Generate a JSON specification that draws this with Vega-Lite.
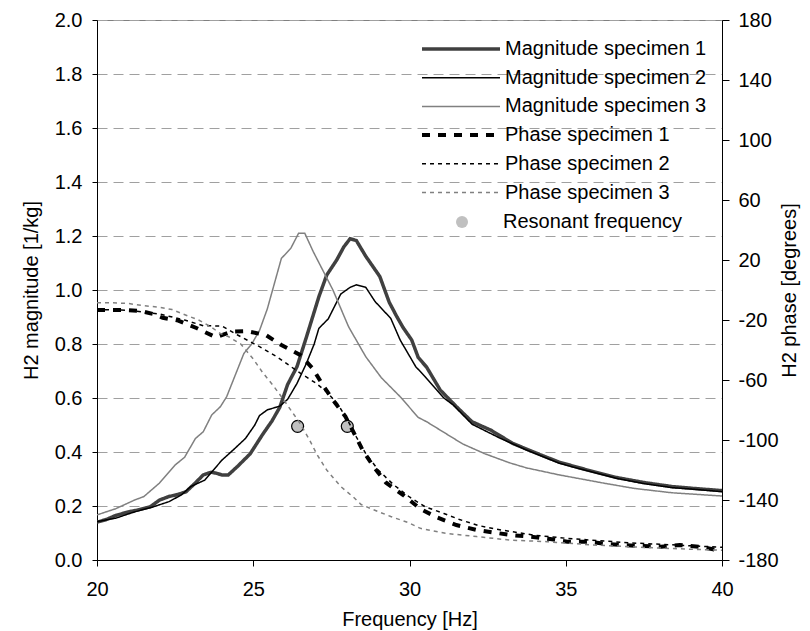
{
  "$schema": "https://vega.github.io/schema/vega-lite/v6.json",
  "width": 625,
  "height": 540,
  "autosize": {"type": "none"},
  "padding": {"left": 97, "top": 20, "right": 88, "bottom": 71},
  "config": {
    "font": "Liberation Sans",
    "view": {"stroke": "#808080", "strokeWidth": 1},
    "axis": {
      "labelFont": "Liberation Sans", "labelFontSize": 20, "labelColor": "#000000",
      "titleFont": "Liberation Sans", "titleFontSize": 20, "titleFontWeight": "normal", "titleColor": "#000000",
      "domainColor": "#000000", "tickColor": "#000000", "labelFlush": false, "labelOverlap": false
    },
    "legend": {"labelFont": "Liberation Sans", "labelFontSize": 20, "labelColor": "#000000", "labelLimit": 400, "padding": 0}
  },
  "datasets": {
    "mag": [
      {"s": "Magnitude specimen 1", "f": 20.0, "m": 0.140},
      {"s": "Magnitude specimen 1", "f": 20.3, "m": 0.150},
      {"s": "Magnitude specimen 1", "f": 20.6, "m": 0.165},
      {"s": "Magnitude specimen 1", "f": 21.0, "m": 0.178},
      {"s": "Magnitude specimen 1", "f": 21.3, "m": 0.185},
      {"s": "Magnitude specimen 1", "f": 21.7, "m": 0.197},
      {"s": "Magnitude specimen 1", "f": 22.0, "m": 0.222},
      {"s": "Magnitude specimen 1", "f": 22.3, "m": 0.235},
      {"s": "Magnitude specimen 1", "f": 22.6, "m": 0.243},
      {"s": "Magnitude specimen 1", "f": 22.85, "m": 0.253},
      {"s": "Magnitude specimen 1", "f": 23.1, "m": 0.280},
      {"s": "Magnitude specimen 1", "f": 23.4, "m": 0.315},
      {"s": "Magnitude specimen 1", "f": 23.65, "m": 0.325},
      {"s": "Magnitude specimen 1", "f": 23.8, "m": 0.322},
      {"s": "Magnitude specimen 1", "f": 24.0, "m": 0.315},
      {"s": "Magnitude specimen 1", "f": 24.2, "m": 0.315},
      {"s": "Magnitude specimen 1", "f": 24.5, "m": 0.347},
      {"s": "Magnitude specimen 1", "f": 24.9, "m": 0.393},
      {"s": "Magnitude specimen 1", "f": 25.3, "m": 0.465},
      {"s": "Magnitude specimen 1", "f": 25.6, "m": 0.515},
      {"s": "Magnitude specimen 1", "f": 25.85, "m": 0.566},
      {"s": "Magnitude specimen 1", "f": 26.1, "m": 0.650},
      {"s": "Magnitude specimen 1", "f": 26.4, "m": 0.716},
      {"s": "Magnitude specimen 1", "f": 26.7, "m": 0.825},
      {"s": "Magnitude specimen 1", "f": 26.9, "m": 0.900},
      {"s": "Magnitude specimen 1", "f": 27.1, "m": 0.975},
      {"s": "Magnitude specimen 1", "f": 27.35, "m": 1.055},
      {"s": "Magnitude specimen 1", "f": 27.67, "m": 1.111},
      {"s": "Magnitude specimen 1", "f": 27.9, "m": 1.160},
      {"s": "Magnitude specimen 1", "f": 28.1, "m": 1.190},
      {"s": "Magnitude specimen 1", "f": 28.3, "m": 1.183},
      {"s": "Magnitude specimen 1", "f": 28.6, "m": 1.125},
      {"s": "Magnitude specimen 1", "f": 29.05, "m": 1.050},
      {"s": "Magnitude specimen 1", "f": 29.35, "m": 0.955},
      {"s": "Magnitude specimen 1", "f": 29.6, "m": 0.900},
      {"s": "Magnitude specimen 1", "f": 29.8, "m": 0.860},
      {"s": "Magnitude specimen 1", "f": 30.07, "m": 0.815},
      {"s": "Magnitude specimen 1", "f": 30.28, "m": 0.750},
      {"s": "Magnitude specimen 1", "f": 30.55, "m": 0.714},
      {"s": "Magnitude specimen 1", "f": 30.98, "m": 0.630},
      {"s": "Magnitude specimen 1", "f": 31.5, "m": 0.568},
      {"s": "Magnitude specimen 1", "f": 32.0, "m": 0.512},
      {"s": "Magnitude specimen 1", "f": 32.6, "m": 0.481},
      {"s": "Magnitude specimen 1", "f": 33.3, "m": 0.432},
      {"s": "Magnitude specimen 1", "f": 34.2, "m": 0.389},
      {"s": "Magnitude specimen 1", "f": 34.8, "m": 0.362},
      {"s": "Magnitude specimen 1", "f": 35.7, "m": 0.333},
      {"s": "Magnitude specimen 1", "f": 36.6, "m": 0.306},
      {"s": "Magnitude specimen 1", "f": 37.5, "m": 0.287},
      {"s": "Magnitude specimen 1", "f": 38.4, "m": 0.272},
      {"s": "Magnitude specimen 1", "f": 39.1, "m": 0.265},
      {"s": "Magnitude specimen 1", "f": 40.0, "m": 0.257},

      {"s": "Magnitude specimen 2", "f": 20.0, "m": 0.142},
      {"s": "Magnitude specimen 2", "f": 20.6, "m": 0.155},
      {"s": "Magnitude specimen 2", "f": 21.2, "m": 0.178},
      {"s": "Magnitude specimen 2", "f": 21.75, "m": 0.195},
      {"s": "Magnitude specimen 2", "f": 22.3, "m": 0.216},
      {"s": "Magnitude specimen 2", "f": 22.7, "m": 0.241},
      {"s": "Magnitude specimen 2", "f": 23.0, "m": 0.272},
      {"s": "Magnitude specimen 2", "f": 23.45, "m": 0.296},
      {"s": "Magnitude specimen 2", "f": 23.7, "m": 0.330},
      {"s": "Magnitude specimen 2", "f": 24.0, "m": 0.370},
      {"s": "Magnitude specimen 2", "f": 24.4, "m": 0.412},
      {"s": "Magnitude specimen 2", "f": 24.75, "m": 0.450},
      {"s": "Magnitude specimen 2", "f": 25.05, "m": 0.500},
      {"s": "Magnitude specimen 2", "f": 25.2, "m": 0.535},
      {"s": "Magnitude specimen 2", "f": 25.45, "m": 0.556},
      {"s": "Magnitude specimen 2", "f": 25.85, "m": 0.570},
      {"s": "Magnitude specimen 2", "f": 26.1, "m": 0.595},
      {"s": "Magnitude specimen 2", "f": 26.4, "m": 0.654},
      {"s": "Magnitude specimen 2", "f": 26.7, "m": 0.728},
      {"s": "Magnitude specimen 2", "f": 26.95, "m": 0.800},
      {"s": "Magnitude specimen 2", "f": 27.1, "m": 0.858},
      {"s": "Magnitude specimen 2", "f": 27.4, "m": 0.893},
      {"s": "Magnitude specimen 2", "f": 27.8, "m": 0.985},
      {"s": "Magnitude specimen 2", "f": 28.1, "m": 1.010},
      {"s": "Magnitude specimen 2", "f": 28.3, "m": 1.019},
      {"s": "Magnitude specimen 2", "f": 28.6, "m": 1.010},
      {"s": "Magnitude specimen 2", "f": 28.9, "m": 0.957},
      {"s": "Magnitude specimen 2", "f": 29.4, "m": 0.895},
      {"s": "Magnitude specimen 2", "f": 29.7, "m": 0.815},
      {"s": "Magnitude specimen 2", "f": 30.2, "m": 0.716},
      {"s": "Magnitude specimen 2", "f": 30.5, "m": 0.679},
      {"s": "Magnitude specimen 2", "f": 31.1, "m": 0.600},
      {"s": "Magnitude specimen 2", "f": 31.4, "m": 0.574},
      {"s": "Magnitude specimen 2", "f": 32.0, "m": 0.503},
      {"s": "Magnitude specimen 2", "f": 32.9, "m": 0.451},
      {"s": "Magnitude specimen 2", "f": 33.75, "m": 0.407},
      {"s": "Magnitude specimen 2", "f": 34.8, "m": 0.358},
      {"s": "Magnitude specimen 2", "f": 35.7, "m": 0.330},
      {"s": "Magnitude specimen 2", "f": 36.6, "m": 0.303},
      {"s": "Magnitude specimen 2", "f": 37.5, "m": 0.283},
      {"s": "Magnitude specimen 2", "f": 38.4, "m": 0.268},
      {"s": "Magnitude specimen 2", "f": 39.1, "m": 0.262},
      {"s": "Magnitude specimen 2", "f": 40.0, "m": 0.253},

      {"s": "Magnitude specimen 3", "f": 20.0, "m": 0.167},
      {"s": "Magnitude specimen 3", "f": 20.6, "m": 0.190},
      {"s": "Magnitude specimen 3", "f": 21.2, "m": 0.222},
      {"s": "Magnitude specimen 3", "f": 21.5, "m": 0.235},
      {"s": "Magnitude specimen 3", "f": 22.0, "m": 0.285},
      {"s": "Magnitude specimen 3", "f": 22.5, "m": 0.352},
      {"s": "Magnitude specimen 3", "f": 22.8, "m": 0.380},
      {"s": "Magnitude specimen 3", "f": 23.15, "m": 0.450},
      {"s": "Magnitude specimen 3", "f": 23.4, "m": 0.475},
      {"s": "Magnitude specimen 3", "f": 23.67, "m": 0.537},
      {"s": "Magnitude specimen 3", "f": 23.95, "m": 0.568},
      {"s": "Magnitude specimen 3", "f": 24.15, "m": 0.605},
      {"s": "Magnitude specimen 3", "f": 24.7, "m": 0.765},
      {"s": "Magnitude specimen 3", "f": 24.95, "m": 0.800},
      {"s": "Magnitude specimen 3", "f": 25.2, "m": 0.850},
      {"s": "Magnitude specimen 3", "f": 25.45, "m": 0.930},
      {"s": "Magnitude specimen 3", "f": 25.9, "m": 1.117},
      {"s": "Magnitude specimen 3", "f": 26.2, "m": 1.154},
      {"s": "Magnitude specimen 3", "f": 26.45, "m": 1.210},
      {"s": "Magnitude specimen 3", "f": 26.65, "m": 1.210},
      {"s": "Magnitude specimen 3", "f": 26.92, "m": 1.142},
      {"s": "Magnitude specimen 3", "f": 27.55, "m": 1.000},
      {"s": "Magnitude specimen 3", "f": 28.05, "m": 0.864},
      {"s": "Magnitude specimen 3", "f": 28.6, "m": 0.753},
      {"s": "Magnitude specimen 3", "f": 29.1, "m": 0.675},
      {"s": "Magnitude specimen 3", "f": 29.7, "m": 0.605},
      {"s": "Magnitude specimen 3", "f": 30.28, "m": 0.528},
      {"s": "Magnitude specimen 3", "f": 30.55, "m": 0.512},
      {"s": "Magnitude specimen 3", "f": 31.7, "m": 0.430},
      {"s": "Magnitude specimen 3", "f": 32.4, "m": 0.394},
      {"s": "Magnitude specimen 3", "f": 33.2, "m": 0.360},
      {"s": "Magnitude specimen 3", "f": 33.75, "m": 0.341},
      {"s": "Magnitude specimen 3", "f": 34.8, "m": 0.315},
      {"s": "Magnitude specimen 3", "f": 36.2, "m": 0.285},
      {"s": "Magnitude specimen 3", "f": 37.2, "m": 0.265},
      {"s": "Magnitude specimen 3", "f": 38.4, "m": 0.249},
      {"s": "Magnitude specimen 3", "f": 39.2, "m": 0.243},
      {"s": "Magnitude specimen 3", "f": 40.0, "m": 0.237}
    ],
    "phase": [
      {"s": "Phase specimen 1", "f": 20.0, "p": -13.3},
      {"s": "Phase specimen 1", "f": 20.8, "p": -13.3},
      {"s": "Phase specimen 1", "f": 21.4, "p": -14.0},
      {"s": "Phase specimen 1", "f": 21.8, "p": -16.0},
      {"s": "Phase specimen 1", "f": 22.1, "p": -18.5},
      {"s": "Phase specimen 1", "f": 22.6, "p": -20.4},
      {"s": "Phase specimen 1", "f": 23.2, "p": -25.5},
      {"s": "Phase specimen 1", "f": 23.8, "p": -31.5},
      {"s": "Phase specimen 1", "f": 24.3, "p": -27.8},
      {"s": "Phase specimen 1", "f": 24.8, "p": -27.5},
      {"s": "Phase specimen 1", "f": 25.4, "p": -30.0},
      {"s": "Phase specimen 1", "f": 25.9, "p": -36.7},
      {"s": "Phase specimen 1", "f": 26.5, "p": -43.3},
      {"s": "Phase specimen 1", "f": 26.9, "p": -52.2},
      {"s": "Phase specimen 1", "f": 27.2, "p": -62.5},
      {"s": "Phase specimen 1", "f": 27.55, "p": -73.3},
      {"s": "Phase specimen 1", "f": 27.95, "p": -84.4},
      {"s": "Phase specimen 1", "f": 28.2, "p": -94.4},
      {"s": "Phase specimen 1", "f": 28.5, "p": -106.7},
      {"s": "Phase specimen 1", "f": 28.85, "p": -117.8},
      {"s": "Phase specimen 1", "f": 29.25, "p": -128.5},
      {"s": "Phase specimen 1", "f": 29.8, "p": -136.7},
      {"s": "Phase specimen 1", "f": 30.35, "p": -146.0},
      {"s": "Phase specimen 1", "f": 30.9, "p": -151.8},
      {"s": "Phase specimen 1", "f": 31.5, "p": -156.7},
      {"s": "Phase specimen 1", "f": 32.15, "p": -160.0},
      {"s": "Phase specimen 1", "f": 32.7, "p": -161.7},
      {"s": "Phase specimen 1", "f": 33.3, "p": -163.5},
      {"s": "Phase specimen 1", "f": 33.85, "p": -164.4},
      {"s": "Phase specimen 1", "f": 34.5, "p": -166.0},
      {"s": "Phase specimen 1", "f": 35.05, "p": -167.8},
      {"s": "Phase specimen 1", "f": 35.7, "p": -167.8},
      {"s": "Phase specimen 1", "f": 36.25, "p": -169.2},
      {"s": "Phase specimen 1", "f": 36.85, "p": -170.0},
      {"s": "Phase specimen 1", "f": 37.4, "p": -170.7},
      {"s": "Phase specimen 1", "f": 38.05, "p": -171.1},
      {"s": "Phase specimen 1", "f": 38.65, "p": -170.0},
      {"s": "Phase specimen 1", "f": 39.25, "p": -171.1},
      {"s": "Phase specimen 1", "f": 39.85, "p": -173.3},
      {"s": "Phase specimen 1", "f": 40.0, "p": -173.3},

      {"s": "Phase specimen 2", "f": 20.0, "p": -13.0},
      {"s": "Phase specimen 2", "f": 21.0, "p": -13.5},
      {"s": "Phase specimen 2", "f": 22.0, "p": -16.0},
      {"s": "Phase specimen 2", "f": 22.8, "p": -20.0},
      {"s": "Phase specimen 2", "f": 23.4, "p": -23.8},
      {"s": "Phase specimen 2", "f": 24.0, "p": -24.0},
      {"s": "Phase specimen 2", "f": 24.5, "p": -30.0},
      {"s": "Phase specimen 2", "f": 25.2, "p": -37.8},
      {"s": "Phase specimen 2", "f": 25.75, "p": -44.4},
      {"s": "Phase specimen 2", "f": 26.2, "p": -51.0},
      {"s": "Phase specimen 2", "f": 26.6, "p": -56.7},
      {"s": "Phase specimen 2", "f": 27.0, "p": -62.0},
      {"s": "Phase specimen 2", "f": 27.35, "p": -68.0},
      {"s": "Phase specimen 2", "f": 27.7, "p": -76.0},
      {"s": "Phase specimen 2", "f": 28.0, "p": -86.0},
      {"s": "Phase specimen 2", "f": 28.3, "p": -98.0},
      {"s": "Phase specimen 2", "f": 28.6, "p": -109.0},
      {"s": "Phase specimen 2", "f": 29.0, "p": -120.0},
      {"s": "Phase specimen 2", "f": 29.5, "p": -130.0},
      {"s": "Phase specimen 2", "f": 30.0, "p": -138.0},
      {"s": "Phase specimen 2", "f": 30.5, "p": -144.5},
      {"s": "Phase specimen 2", "f": 31.1, "p": -149.0},
      {"s": "Phase specimen 2", "f": 31.6, "p": -153.0},
      {"s": "Phase specimen 2", "f": 32.2, "p": -157.0},
      {"s": "Phase specimen 2", "f": 32.8, "p": -159.5},
      {"s": "Phase specimen 2", "f": 33.4, "p": -161.5},
      {"s": "Phase specimen 2", "f": 34.0, "p": -163.5},
      {"s": "Phase specimen 2", "f": 35.0, "p": -165.5},
      {"s": "Phase specimen 2", "f": 36.0, "p": -167.0},
      {"s": "Phase specimen 2", "f": 37.0, "p": -168.5},
      {"s": "Phase specimen 2", "f": 38.0, "p": -169.5},
      {"s": "Phase specimen 2", "f": 39.0, "p": -170.5},
      {"s": "Phase specimen 2", "f": 40.0, "p": -171.5},

      {"s": "Phase specimen 3", "f": 20.0, "p": -8.5},
      {"s": "Phase specimen 3", "f": 20.5, "p": -8.5},
      {"s": "Phase specimen 3", "f": 21.0, "p": -9.0},
      {"s": "Phase specimen 3", "f": 21.5, "p": -10.5},
      {"s": "Phase specimen 3", "f": 22.0, "p": -11.5},
      {"s": "Phase specimen 3", "f": 22.4, "p": -13.0},
      {"s": "Phase specimen 3", "f": 22.75, "p": -16.0},
      {"s": "Phase specimen 3", "f": 23.25, "p": -20.0},
      {"s": "Phase specimen 3", "f": 23.6, "p": -24.0},
      {"s": "Phase specimen 3", "f": 23.95, "p": -29.0},
      {"s": "Phase specimen 3", "f": 24.2, "p": -31.0},
      {"s": "Phase specimen 3", "f": 24.6, "p": -36.0},
      {"s": "Phase specimen 3", "f": 25.0, "p": -46.0},
      {"s": "Phase specimen 3", "f": 25.3, "p": -55.0},
      {"s": "Phase specimen 3", "f": 25.65, "p": -64.0},
      {"s": "Phase specimen 3", "f": 26.0, "p": -74.0},
      {"s": "Phase specimen 3", "f": 26.3, "p": -83.0},
      {"s": "Phase specimen 3", "f": 26.5, "p": -89.0},
      {"s": "Phase specimen 3", "f": 26.8, "p": -100.0},
      {"s": "Phase specimen 3", "f": 27.05, "p": -110.0},
      {"s": "Phase specimen 3", "f": 27.35, "p": -120.0},
      {"s": "Phase specimen 3", "f": 27.8, "p": -131.0},
      {"s": "Phase specimen 3", "f": 28.2, "p": -138.0},
      {"s": "Phase specimen 3", "f": 28.45, "p": -143.0},
      {"s": "Phase specimen 3", "f": 28.85, "p": -146.5},
      {"s": "Phase specimen 3", "f": 29.4, "p": -151.0},
      {"s": "Phase specimen 3", "f": 29.95, "p": -155.0},
      {"s": "Phase specimen 3", "f": 30.35, "p": -158.9},
      {"s": "Phase specimen 3", "f": 31.15, "p": -162.2},
      {"s": "Phase specimen 3", "f": 32.15, "p": -164.4},
      {"s": "Phase specimen 3", "f": 33.2, "p": -166.7},
      {"s": "Phase specimen 3", "f": 34.4, "p": -167.8},
      {"s": "Phase specimen 3", "f": 35.9, "p": -170.0},
      {"s": "Phase specimen 3", "f": 37.5, "p": -171.6},
      {"s": "Phase specimen 3", "f": 39.1, "p": -172.9},
      {"s": "Phase specimen 3", "f": 40.0, "p": -173.5}
    ],
    "res": [
      {"lab": "Resonant frequency", "f": 26.42, "m": 0.495},
      {"lab": "Resonant frequency", "f": 28.01, "m": 0.495}
    ]
  },
  "layer": [
    {
      "layer": [
        {
          "data": {"name": "mag"},
          "transform": [{"filter": "datum.s == 'Magnitude specimen 1'"}],
          "mark": {"type": "line", "clip": true, "strokeWidth": 3.5},
          "encoding": {
            "x": {"field": "f", "type": "quantitative", "scale": {"domain": [20, 40], "nice": false},
              "axis": {"values": [20, 25, 30, 35, 40], "title": "Frequency [Hz]", "grid": false, "tickSize": 6, "labelPadding": 13, "titlePadding": 10}},
            "y": {"field": "m", "type": "quantitative", "scale": {"domain": [0, 2], "nice": false},
              "axis": {"orient": "left", "values": [0, 0.2, 0.4, 0.6, 0.8, 1.0, 1.2, 1.4, 1.6, 1.8, 2.0], "format": ".1f",
                "title": "H2 magnitude [1/kg]", "grid": true, "gridDash": [10, 6], "gridColor": "#a0a0a0", "gridWidth": 1,
                "tickSize": 5, "labelPadding": 10, "titlePadding": 13}},
            "color": {"field": "s", "type": "nominal",
              "scale": {"domain": ["Magnitude specimen 1", "Magnitude specimen 2", "Magnitude specimen 3", "Phase specimen 1", "Phase specimen 2", "Phase specimen 3"],
                "range": ["#404040", "#000000", "#808080", "#000000", "#000000", "#808080"]},
              "legend": {"orient": "none", "legendX": 354, "legendY": 19, "title": null, "symbolType": "stroke", "symbolSize": 6084, "labelOffset": 34, "rowPadding": 8.7,
                "encode": {"symbols": {"update": {
                  "size": {"value": 6084},
                  "strokeWidth": {"signal": "datum.value == 'Magnitude specimen 1' ? 3.5 : (datum.value == 'Phase specimen 1' ? 4 : 1.5)"},
                  "strokeDash": {"signal": "datum.value == 'Phase specimen 1' ? [8, 8] : (indexof(datum.value, 'Phase') == 0 ? [4, 4] : [1, 0])"}
                }}}}},
            "strokeDash": {"field": "s", "type": "nominal", "legend": null,
              "scale": {"domain": ["Magnitude specimen 1", "Magnitude specimen 2", "Magnitude specimen 3", "Phase specimen 1", "Phase specimen 2", "Phase specimen 3"],
                "range": [[1, 0], [1, 0], [1, 0], [8, 8], [4, 4], [4, 4]]}}
          }
        },
        {
          "data": {"name": "mag"},
          "transform": [{"filter": "datum.s != 'Magnitude specimen 1'"}],
          "mark": {"type": "line", "clip": true, "strokeWidth": 1.5},
          "encoding": {
            "x": {"field": "f", "type": "quantitative"},
            "y": {"field": "m", "type": "quantitative"},
            "color": {"field": "s", "type": "nominal"},
            "strokeDash": {"field": "s", "type": "nominal", "legend": null}
          }
        },
        {
          "data": {"name": "res"},
          "mark": {"type": "point", "filled": false, "color": "#000000", "fill": "#c0c0c0", "fillOpacity": 1, "strokeWidth": 1.2, "size": 144, "opacity": 1},
          "encoding": {
            "x": {"field": "f", "type": "quantitative"},
            "y": {"field": "m", "type": "quantitative"},
            "shape": {"field": "lab", "type": "nominal", "scale": {"domain": ["Resonant frequency"], "range": ["circle"]},
              "legend": {"orient": "none", "legendX": 355, "legendY": 192, "title": null, "symbolFillColor": "#c0c0c0", "symbolStrokeColor": "#000000", "symbolStrokeWidth": 1.2, "symbolSize": 144, "symbolOpacity": 1, "labelOffset": 31,
                "encode": {"symbols": {"update": {"fill": {"value": "#c0c0c0"}, "fillOpacity": {"value": 1}, "stroke": {"value": "#000000"}, "strokeWidth": {"value": 1.2}, "opacity": {"value": 1}}}}}}
          }
        }
      ]
    },
    {
      "layer": [
        {
          "data": {"name": "phase"},
          "transform": [{"filter": "datum.s == 'Phase specimen 1'"}],
          "mark": {"type": "line", "clip": true, "strokeWidth": 4},
          "encoding": {
            "x": {"field": "f", "type": "quantitative"},
            "y": {"field": "p", "type": "quantitative", "scale": {"domain": [-180, 180], "nice": false},
              "axis": {"orient": "right", "title": "H2 phase [degrees]", "titleAngle": 270, "grid": false,
                "values": [-180,-175,-170,-165,-160,-155,-150,-145,-140,-135,-130,-125,-120,-115,-110,-105,-100,-95,-90,-85,-80,-75,-70,-65,-60,-55,-50,-45,-40,-35,-30,-25,-20,-15,-10,-5,0,5,10,15,20,25,30,35,40,45,50,55,60,65,70,75,80,85,90,95,100,105,110,115,120,125,130,135,140,145,150,155,160,165,170,175,180],
                "labelExpr": "(datum.value + 180) % 40 == 0 ? '' + datum.value : ''",
                "tickSize": {"condition": {"test": "(datum.value + 180) % 40 == 0", "value": 7}, "value": 4},
                "labelPadding": 9, "titlePadding": 21}},
            "color": {"field": "s", "type": "nominal"},
            "strokeDash": {"field": "s", "type": "nominal", "legend": null}
          }
        },
        {
          "data": {"name": "phase"},
          "transform": [{"filter": "datum.s != 'Phase specimen 1'"}],
          "mark": {"type": "line", "clip": true, "strokeWidth": 1.5},
          "encoding": {
            "x": {"field": "f", "type": "quantitative"},
            "y": {"field": "p", "type": "quantitative"},
            "color": {"field": "s", "type": "nominal"},
            "strokeDash": {"field": "s", "type": "nominal", "legend": null}
          }
        }
      ]
    }
  ],
  "resolve": {"scale": {"y": "independent"}}
}
